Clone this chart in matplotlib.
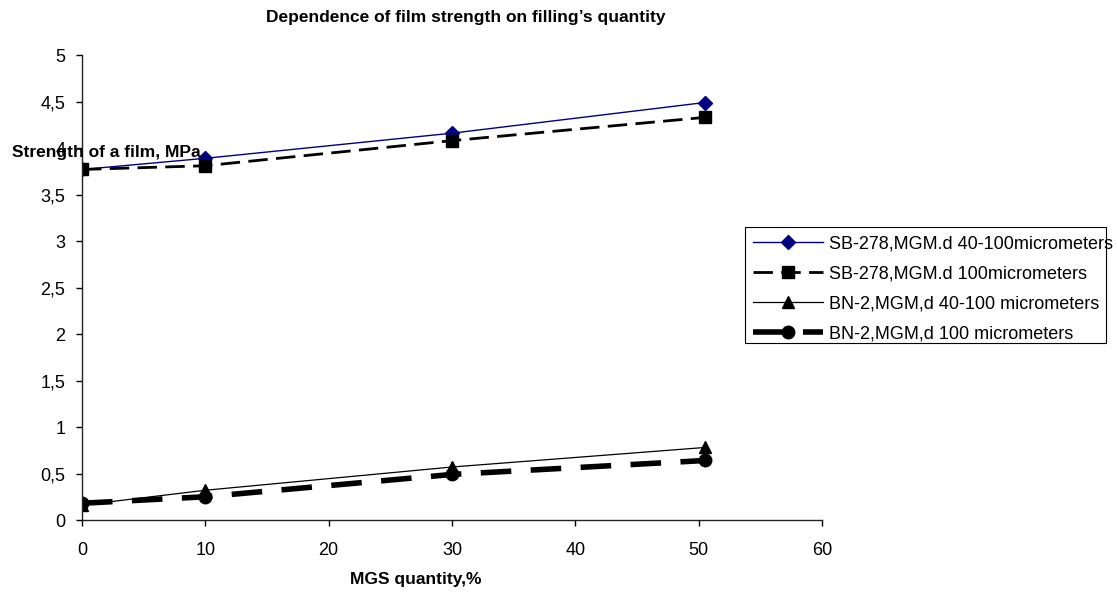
import matplotlib.pyplot as plt
from matplotlib.patches import Rectangle
from matplotlib.ticker import FuncFormatter, MultipleLocator

plt.rcParams['font.family'] = ['Liberation Sans', 'DejaVu Sans']

# MGS content, % and film strength, MPa
mgs_sb = [0, 10, 30, 50.5]
sb_40_100 = [3.77, 3.89, 4.16, 4.49]
sb_100 = [3.77, 3.81, 4.08, 4.33]
mgs_bn = [0, 10, 30, 50.5]
bn_40_100 = [0.16, 0.32, 0.57, 0.78]
bn_100 = [0.18, 0.25, 0.49, 0.64]

labels = ['SB-278,MGM.d 40-100micrometers',
          'SB-278,MGM.d 100micrometers',
          'BN-2,MGM,d 40-100 micrometers',
          'BN-2,MGM,d 100 micrometers']

fig = plt.figure(figsize=(11.17, 5.93), dpi=100)
ax = fig.add_axes([0.0734, 0.1231, 0.6625, 0.784])

ax.plot(mgs_sb, sb_40_100, color='#000080', lw=1, marker='D', ms=7,
        label=labels[0])
ax.plot(mgs_sb, sb_100, color='black', lw=2, ls=(0, (7, 3)), marker='s',
        ms=8, label=labels[1])
ax.plot(mgs_bn, bn_40_100, color='black', lw=0.9, marker='^', ms=9,
        label=labels[2])
ax.plot(mgs_bn, bn_100, color='black', lw=4, ls=(0, (5.5, 3.5)), marker='o',
        ms=9, label=labels[3])

ax.set_xlim(0, 60)
ax.set_ylim(0, 5)
ax.xaxis.set_major_locator(MultipleLocator(10))
ax.yaxis.set_major_locator(MultipleLocator(0.5))
ax.yaxis.set_major_formatter(
    FuncFormatter(lambda v, p: ('%g' % v).replace('.', ',')))
ax.tick_params(direction='out', length=4, width=1, labelsize=13)
ax.tick_params(axis='x', pad=12)
ax.tick_params(axis='y', pad=8)
ax.spines['top'].set_visible(False)
ax.spines['right'].set_visible(False)
for s in ('left', 'bottom'):
    ax.spines[s].set_linewidth(1)
    ax.spines[s].set_color('#222222')

fig.text(0.417, 0.970, "Dependence of film strength on filling\u2019s quantity",
         ha='center', va='center', fontsize=12.5, fontweight='bold')
fig.text(0.011, 0.742, 'Strength of a film, MPa', ha='left', va='center',
         fontsize=12.5, fontweight='bold')
fig.text(0.372, 0.022, 'MGS quantity,%', ha='center', va='center',
         fontsize=12.5, fontweight='bold')

# legend entries without a frame; the box is drawn separately so the long
# first label may run up to its right edge
leg = fig.legend(loc='upper left', bbox_to_anchor=(0.669, 0.612),
                 borderaxespad=0, fontsize=13, frameon=False,
                 handlelength=3.9, labelspacing=0.72, borderpad=0.3,
                 handletextpad=0.3)
fig.patches.append(Rectangle((0.667, 0.4215), 0.323, 0.1955,
                             transform=fig.transFigure, fill=False,
                             edgecolor='black', linewidth=0.8))

fig.savefig('out.png', dpi=100)
